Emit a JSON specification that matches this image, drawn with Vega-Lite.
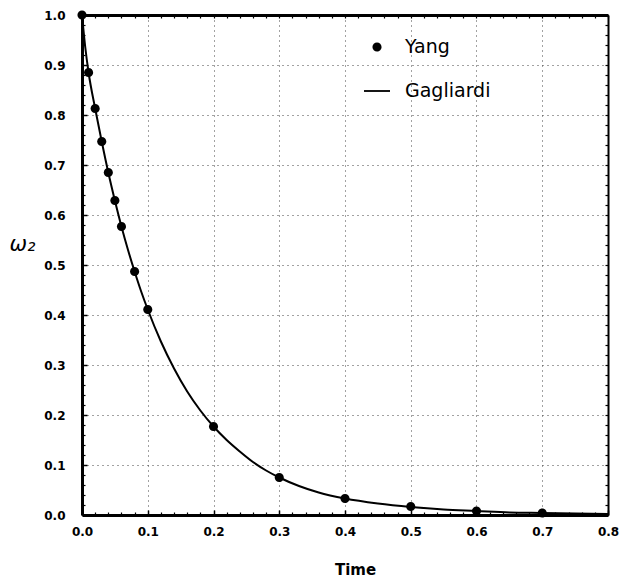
{
  "$schema": "https://vega.github.io/schema/vega-lite/v6.json",
  "autosize": {"type": "none"},
  "padding": {"left": 82, "top": 15, "right": 13, "bottom": 63},
  "width": 526,
  "height": 500,
  "background": "white",
  "config": {
    "view": {"stroke": null},
    "font": "DejaVu Sans",
    "axis": {
      "labelFont": "DejaVu Sans",
      "labelFontWeight": "bold",
      "labelFontSize": 12,
      "labelColor": "black",
      "tickColor": "black",
      "domainColor": "black",
      "gridColor": "#444444",
      "gridDash": [1, 4],
      "gridWidth": 1,
      "titleColor": "black",
      "titleFont": "DejaVu Sans"
    }
  },
  "datasets": {
    "yang": [
      {"t": 0.0, "w": 1.0, "series": "Yang"},
      {"t": 0.01, "w": 0.885, "series": "Yang"},
      {"t": 0.02, "w": 0.813, "series": "Yang"},
      {"t": 0.03, "w": 0.747, "series": "Yang"},
      {"t": 0.04, "w": 0.685, "series": "Yang"},
      {"t": 0.05, "w": 0.629, "series": "Yang"},
      {"t": 0.06, "w": 0.577, "series": "Yang"},
      {"t": 0.08, "w": 0.487, "series": "Yang"},
      {"t": 0.1, "w": 0.411, "series": "Yang"},
      {"t": 0.2, "w": 0.177, "series": "Yang"},
      {"t": 0.3, "w": 0.075, "series": "Yang"},
      {"t": 0.4, "w": 0.033, "series": "Yang"},
      {"t": 0.5, "w": 0.017, "series": "Yang"},
      {"t": 0.6, "w": 0.008, "series": "Yang"},
      {"t": 0.7, "w": 0.004, "series": "Yang"}
    ],
    "gag": [
      {"t": 0.0, "w": 1.0},
      {"t": 0.005, "w": 0.935},
      {"t": 0.01, "w": 0.885},
      {"t": 0.02, "w": 0.813},
      {"t": 0.03, "w": 0.747},
      {"t": 0.04, "w": 0.685},
      {"t": 0.05, "w": 0.629},
      {"t": 0.06, "w": 0.577},
      {"t": 0.07, "w": 0.53},
      {"t": 0.08, "w": 0.487},
      {"t": 0.09, "w": 0.447},
      {"t": 0.1, "w": 0.411},
      {"t": 0.12, "w": 0.347},
      {"t": 0.14, "w": 0.293},
      {"t": 0.16, "w": 0.247},
      {"t": 0.18, "w": 0.209},
      {"t": 0.2, "w": 0.177},
      {"t": 0.22, "w": 0.150},
      {"t": 0.24, "w": 0.127},
      {"t": 0.26, "w": 0.106},
      {"t": 0.28, "w": 0.089},
      {"t": 0.3, "w": 0.075},
      {"t": 0.33, "w": 0.058},
      {"t": 0.36, "w": 0.045},
      {"t": 0.4, "w": 0.033},
      {"t": 0.45, "w": 0.023},
      {"t": 0.5, "w": 0.016},
      {"t": 0.55, "w": 0.011},
      {"t": 0.6, "w": 0.008},
      {"t": 0.65, "w": 0.005},
      {"t": 0.7, "w": 0.004},
      {"t": 0.75, "w": 0.003},
      {"t": 0.8, "w": 0.002}
    ]
  },
  "layer": [
    {
      "data": {"name": "gag"},
      "mark": {"type": "line", "color": "black", "strokeWidth": 2, "interpolate": "monotone"},
      "encoding": {
        "x": {
          "field": "t",
          "type": "quantitative",
          "scale": {"domain": [0, 0.8], "nice": false, "zero": false},
          "axis": {
            "orient": "bottom",
            "values": [0, 0.1, 0.2, 0.3, 0.4, 0.5, 0.6, 0.7, 0.8],
            "format": ".1f",
            "tickSize": -5,
            "tickWidth": 1.5,
            "domainWidth": 3,
            "labelDx": 5,
            "labelPadding": 16,
            "labelFlush": false,
            "labelOverlap": false,
            "labelBound": false,
            "grid": true,
            "title": "Time",
            "titleFontSize": 15,
            "titleFontWeight": "bold",
            "titleX": 273,
            "titleY": 54,
            "titleAlign": "center",
            "titleBaseline": "middle"
          }
        },
        "y": {
          "field": "w",
          "type": "quantitative",
          "scale": {"domain": [0, 1], "nice": false, "zero": false},
          "axis": {
            "orient": "left",
            "values": [0, 0.1, 0.2, 0.3, 0.4, 0.5, 0.6, 0.7, 0.8, 0.9, 1.0],
            "format": ".1f",
            "tickSize": -5,
            "tickWidth": 1.5,
            "domainWidth": 3,
            "labelPadding": 22,
            "labelFlush": false,
            "labelOverlap": false,
            "labelBound": false,
            "grid": true,
            "title": "ω₂",
            "titleAngle": 0,
            "titleX": -60,
            "titleY": 229,
            "titleFontSize": 21,
            "titleFontStyle": "italic",
            "titleFontWeight": "normal",
            "titleAlign": "center",
            "titleBaseline": "middle"
          }
        }
      }
    },
    {
      "data": {"name": "yang"},
      "mark": {"type": "point", "filled": true, "color": "black", "size": 676, "opacity": 1},
      "encoding": {
        "x": {
          "field": "t",
          "type": "quantitative",
          "axis": {
            "orient": "bottom",
            "values": [0.02, 0.04, 0.06, 0.08, 0.12, 0.14, 0.16, 0.18, 0.22, 0.24, 0.26, 0.28, 0.32, 0.34, 0.36, 0.38, 0.42, 0.44, 0.46, 0.48, 0.52, 0.54, 0.56, 0.58, 0.62, 0.64, 0.66, 0.68, 0.72, 0.74, 0.76, 0.78],
            "tickSize": -3,
            "tickWidth": 1.2,
            "labels": false,
            "domain": false,
            "grid": false,
            "title": null
          }
        },
        "y": {
          "field": "w",
          "type": "quantitative",
          "axis": {
            "orient": "left",
            "values": [0.02, 0.04, 0.06, 0.08, 0.12, 0.14, 0.16, 0.18, 0.22, 0.24, 0.26, 0.28, 0.32, 0.34, 0.36, 0.38, 0.42, 0.44, 0.46, 0.48, 0.52, 0.54, 0.56, 0.58, 0.62, 0.64, 0.66, 0.68, 0.72, 0.74, 0.76, 0.78, 0.82, 0.84, 0.86, 0.88, 0.92, 0.94, 0.96, 0.98],
            "tickSize": -3,
            "tickWidth": 1.2,
            "labels": false,
            "domain": false,
            "grid": false,
            "title": null
          }
        },
        "shape": {
          "field": "series",
          "type": "nominal",
          "scale": {
            "domain": ["Yang", "Gagliardi"],
            "range": ["M-0.35,0A0.35,0.35,0,1,1,0.35,0A0.35,0.35,0,1,1,-0.35,0Z", "M-1,-0.07L1,-0.07L1,0.07L-1,0.07Z"]
          },
          "legend": {
            "orient": "none",
            "legendX": 281,
            "legendY": 18,
            "title": null,
            "padding": 0,
            "labelFont": "DejaVu Sans",
            "labelFontSize": 19,
            "labelColor": "black",
            "labelOffset": 14,
            "rowPadding": 20,
            "symbolSize": 676,
            "symbolFillColor": "black",
            "symbolOpacity": 1
          }
        }
      }
    },
    {
      "data": {"name": "gag"},
      "mark": {"type": "line", "opacity": 0},
      "encoding": {
        "x": {
          "field": "t",
          "type": "quantitative",
          "axis": {
            "orient": "top",
            "values": [0, 0.02, 0.04, 0.06, 0.08, 0.1, 0.12, 0.14, 0.16, 0.18, 0.2, 0.22, 0.24, 0.26, 0.28, 0.3, 0.32, 0.34, 0.36, 0.38, 0.4, 0.42, 0.44, 0.46, 0.48, 0.5, 0.52, 0.54, 0.56, 0.58, 0.6, 0.62, 0.64, 0.66, 0.68, 0.7, 0.72, 0.74, 0.76, 0.78, 0.8],
            "tickSize": -3,
            "tickWidth": 1.2,
            "labels": false,
            "domainWidth": 3,
            "grid": false,
            "title": null
          }
        },
        "y": {
          "field": "w",
          "type": "quantitative",
          "axis": {
            "orient": "right",
            "values": [0, 0.02, 0.04, 0.06, 0.08, 0.1, 0.12, 0.14, 0.16, 0.18, 0.2, 0.22, 0.24, 0.26, 0.28, 0.3, 0.32, 0.34, 0.36, 0.38, 0.4, 0.42, 0.44, 0.46, 0.48, 0.5, 0.52, 0.54, 0.56, 0.58, 0.6, 0.62, 0.64, 0.66, 0.68, 0.7, 0.72, 0.74, 0.76, 0.78, 0.8, 0.82, 0.84, 0.86, 0.88, 0.9, 0.92, 0.94, 0.96, 0.98, 1.0],
            "tickSize": -3,
            "tickWidth": 1.2,
            "labels": false,
            "domainWidth": 2,
            "grid": false,
            "title": null
          }
        }
      }
    }
  ],
  "resolve": {"axis": {"x": "independent", "y": "independent"}}
}
